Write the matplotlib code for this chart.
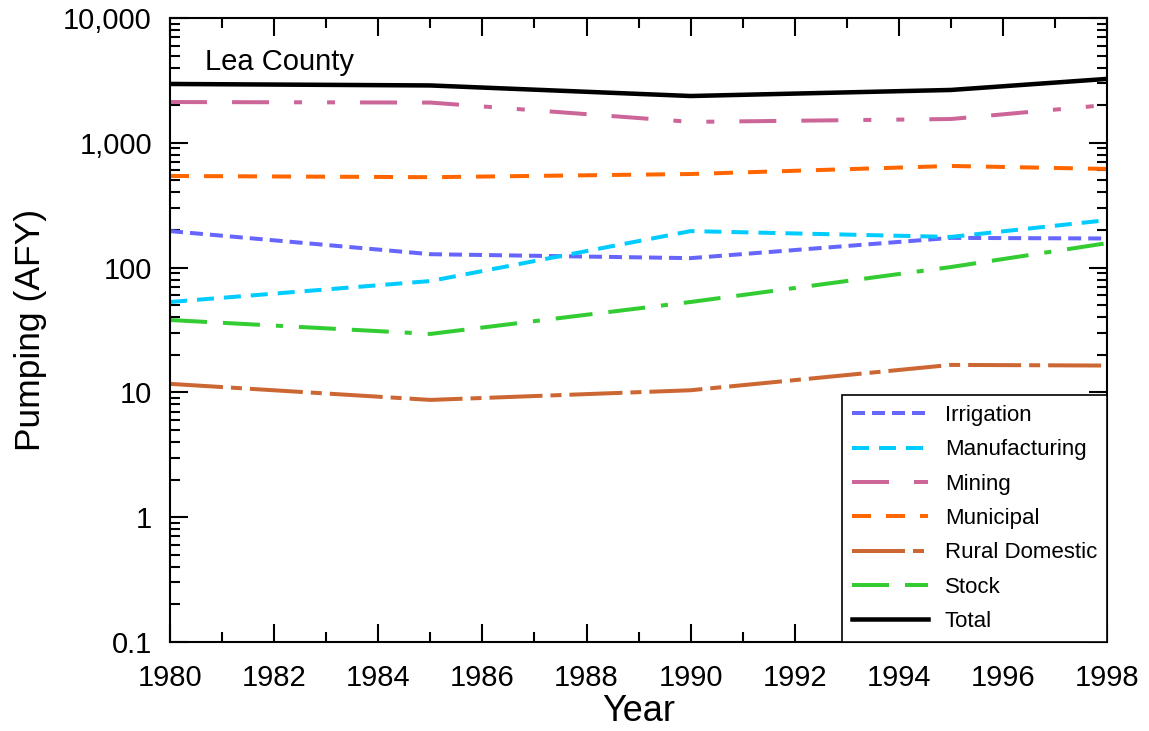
import matplotlib
matplotlib.use("Agg")
import matplotlib.pyplot as plt
import matplotlib.ticker as mticker

plt.rcParams["font.family"] = ["Liberation Sans", "DejaVu Sans"]
plt.rcParams["lines.scale_dashes"] = False

years = [1980, 1985, 1990, 1995, 1998]
irrigation = [196, 128, 119, 173, 171]
manufacturing = [53, 78, 196, 176, 240]
mining = [2120, 2100, 1470, 1550, 2010]
municipal = [542, 530, 562, 652, 617]
rural_domestic = [11.7, 8.7, 10.4, 16.6, 16.4]
stock = [38, 29.4, 53, 101, 157]
total = [2960, 2880, 2370, 2650, 3250]

y_ticks = [0.1, 1, 10, 100, 1000, 10000]
y_tick_labels = ["0.1", "1", "10", "100", "1,000", "10,000"]
x_ticks = list(range(1980, 1999, 2))

px = 0.72  # points per pixel at 100 dpi

series = [
    ("Irrigation", irrigation, "#6666FF", (0, (13 * px, 7 * px))),
    ("Manufacturing", manufacturing, "#00CCFF", (0, (17 * px, 10 * px))),
    ("Mining", mining, "#CC6699",
     (0, (37 * px, 25 * px, 37 * px, 25 * px, 8 * px, 25 * px, 8 * px, 25 * px))),
    ("Municipal", municipal, "#FF6600", (0, (19 * px, 15 * px))),
    ("Rural Domestic", rural_domestic, "#CC6633",
     (0, (53 * px, 8 * px, 11 * px, 8 * px))),
    ("Stock", stock, "#33CC33",
     (0, (37 * px, 16 * px, 37 * px, 16 * px, 7 * px, 16 * px))),
]

fig = plt.figure(figsize=(11.49, 7.31), dpi=100)
ax = fig.add_axes([0.148, 0.1218, 0.8155, 0.8536])

for name, vals, color, ls in series:
    ax.plot(years, vals, color=color, linestyle=ls, linewidth=4 * px,
            label=name, dash_capstyle="butt")
ax.plot(years, total, color="black", linewidth=4.5 * px, label="Total")

ax.set_yscale("log")
ax.set_ylim(0.1, 10000)
ax.set_xlim(1980, 1998)
ax.set_yticks(y_ticks)
ax.set_yticklabels(y_tick_labels)
ax.yaxis.set_minor_locator(mticker.LogLocator(base=10, subs=range(2, 10), numticks=20))
ax.yaxis.set_minor_formatter(mticker.NullFormatter())
ax.set_xticks(x_ticks)
ax.xaxis.set_minor_locator(mticker.MultipleLocator(1))

ax.tick_params(which="both", direction="in", top=True, right=True,
               labelsize=21, width=1.5)
ax.tick_params(axis="x", pad=16)
ax.tick_params(axis="y", pad=13)
ax.tick_params(which="major", length=13)
ax.tick_params(which="minor", length=7)
for sp in ax.spines.values():
    sp.set_linewidth(1.5)

ax.set_xlabel("Year", fontsize=26, labelpad=1)
ax.set_ylabel("Pumping (AFY)", fontsize=25.5, labelpad=12)

ax.text(0.037, 0.93, "Lea County", transform=ax.transAxes, fontsize=21,
        ha="left", va="center")

leg = ax.legend(loc="lower right", fontsize=16, borderaxespad=0,
                fancybox=False, framealpha=1, edgecolor="black",
                handlelength=3.4, handletextpad=0.75, labelspacing=0.6,
                borderpad=0.45)
leg.get_frame().set_linewidth(1.2)

fig.savefig("out.png", dpi=100)
